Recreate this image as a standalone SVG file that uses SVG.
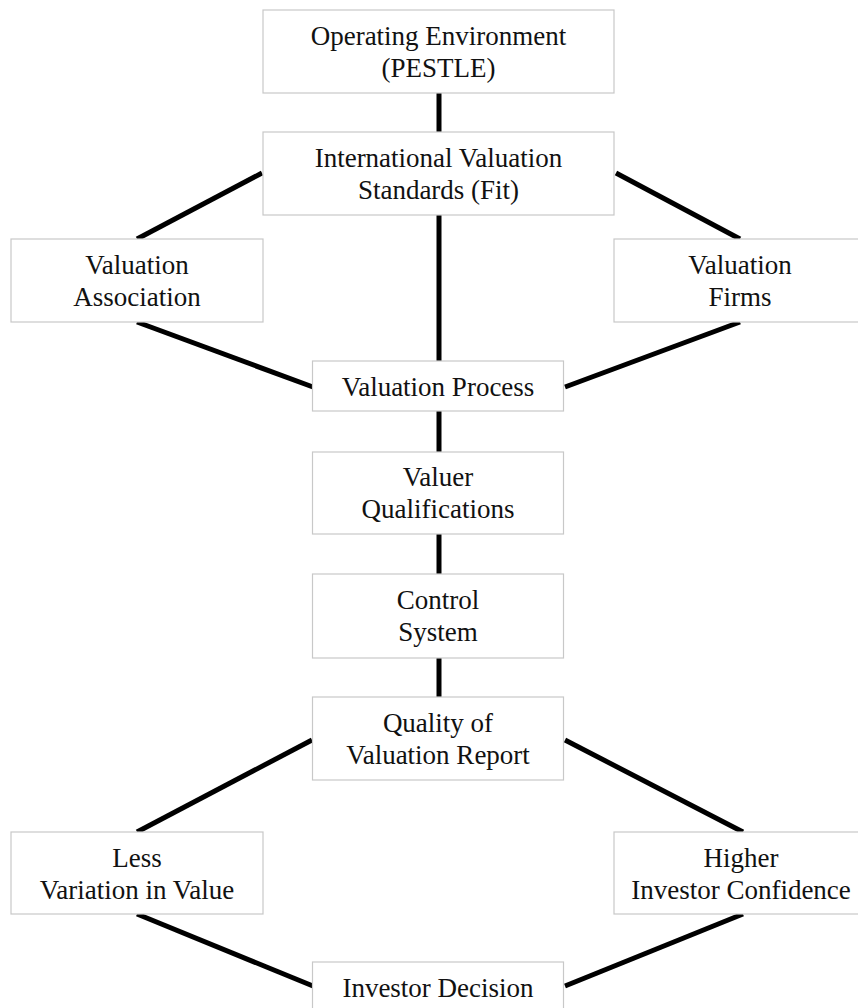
<svg xmlns="http://www.w3.org/2000/svg" width="858" height="1008" viewBox="0 0 858 1008">
<style>
.box{fill:#fff;stroke:#c8c8c8;stroke-width:1.2}
.t{font-family:"Liberation Serif","Times New Roman",serif;font-size:27px;fill:#111;text-anchor:middle}
.c{stroke:#000;stroke-width:5;fill:none}
</style>
<rect width="858" height="1008" fill="#fff"/>
<g id="connectors">
<line class="c" x1="439" y1="93" x2="439" y2="132"/>
<line class="c" x1="262" y1="173" x2="137" y2="239"/>
<line class="c" x1="616" y1="173" x2="740" y2="239"/>
<line class="c" x1="439" y1="215" x2="439" y2="361"/>
<line class="c" x1="137" y1="322" x2="313" y2="387"/>
<line class="c" x1="740" y1="322" x2="565" y2="387"/>
<line class="c" x1="439" y1="411" x2="439" y2="452"/>
<line class="c" x1="439" y1="534" x2="439" y2="574"/>
<line class="c" x1="439" y1="658" x2="439" y2="697"/>
<line class="c" x1="312" y1="740" x2="137" y2="832"/>
<line class="c" x1="565" y1="740" x2="743" y2="832"/>
<line class="c" x1="137" y1="914" x2="313" y2="986"/>
<line class="c" x1="743" y1="914" x2="565" y2="986"/>
</g>
<g id="operating-environment">
<rect class="box" x="263" y="10" width="351" height="83"/>
<text class="t" x="438.5" y="44.5">Operating Environment</text>
<text class="t" x="438.5" y="76.5">(PESTLE)</text>
</g>
<g id="international-valuation-standards">
<rect class="box" x="263" y="132" width="351" height="83"/>
<text class="t" x="438.5" y="166.5">International Valuation</text>
<text class="t" x="438.5" y="198.5">Standards (Fit)</text>
</g>
<g id="valuation-association">
<rect class="box" x="11" y="239" width="252" height="83"/>
<text class="t" x="137" y="273.5">Valuation</text>
<text class="t" x="137" y="305.5">Association</text>
</g>
<g id="valuation-firms">
<rect class="box" x="614" y="239" width="252" height="83"/>
<text class="t" x="740" y="273.5">Valuation</text>
<text class="t" x="740" y="305.5">Firms</text>
</g>
<g id="valuation-process">
<rect class="box" x="312.5" y="361" width="251" height="50"/>
<text class="t" x="438" y="396">Valuation Process</text>
</g>
<g id="valuer-qualifications">
<rect class="box" x="312.5" y="452" width="251" height="82"/>
<text class="t" x="438" y="486">Valuer</text>
<text class="t" x="438" y="518">Qualifications</text>
</g>
<g id="control-system">
<rect class="box" x="312.5" y="574" width="251" height="84"/>
<text class="t" x="438" y="609">Control</text>
<text class="t" x="438" y="641">System</text>
</g>
<g id="quality-of-valuation-report">
<rect class="box" x="312.5" y="697" width="251" height="83"/>
<text class="t" x="438" y="731.5">Quality of</text>
<text class="t" x="438" y="763.5">Valuation Report</text>
</g>
<g id="less-variation">
<rect class="box" x="11" y="832" width="252" height="82"/>
<text class="t" x="137" y="866.5">Less</text>
<text class="t" x="137" y="898.5">Variation in Value</text>
</g>
<g id="higher-investor-confidence">
<rect class="box" x="614" y="832" width="252" height="82"/>
<text class="t" x="741" y="866.5">Higher</text>
<text class="t" x="741" y="898.5">Investor Confidence</text>
</g>
<g id="investor-decision">
<rect class="box" x="312.5" y="962" width="251" height="50"/>
<text class="t" x="438" y="997">Investor Decision</text>
</g>
</svg>
